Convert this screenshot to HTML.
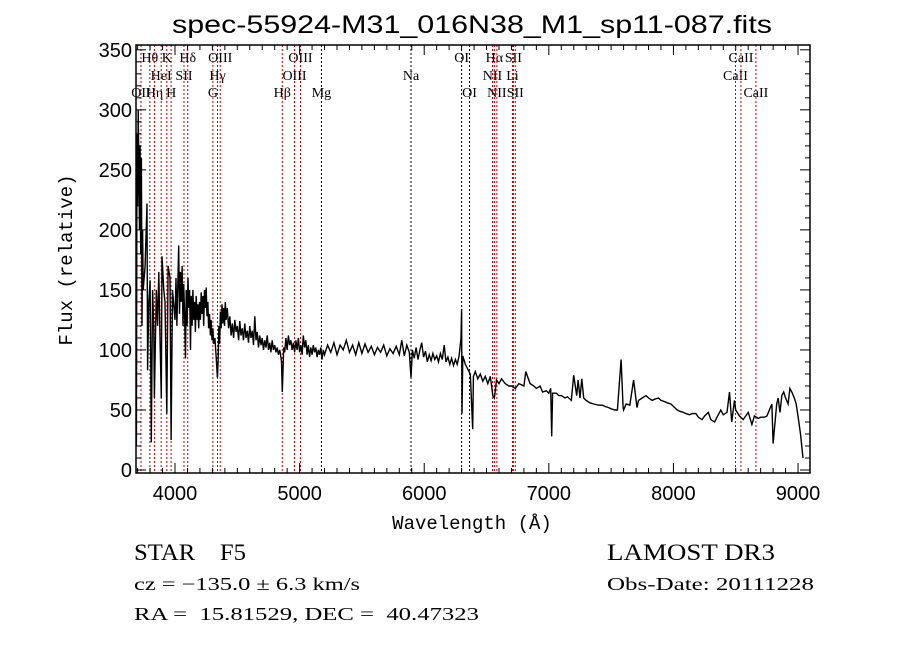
<!DOCTYPE html>
<html><head><meta charset="utf-8">
<style>
html,body{margin:0;padding:0;background:#fff;}
svg{display:block;font-family:"Liberation Sans",sans-serif;}
</style></head>
<body>
<svg id="chart" width="900" height="649" viewBox="0 0 900 649" xmlns="http://www.w3.org/2000/svg">
<rect width="900" height="649" fill="#fff"/>
<text x="172" y="33" font-size="25" textLength="600" lengthAdjust="spacingAndGlyphs">spec-55924-M31_016N38_M1_sp11-087.fits</text>
<g id="lines"></g>
<g id="spec"></g>
<g id="axes"></g>
<text x="472" y="529" font-size="19" text-anchor="middle" font-family="Liberation Mono, monospace">Wavelength (Å)</text>
<text transform="translate(72,260) rotate(-90)" font-size="19" text-anchor="middle" font-family="Liberation Mono, monospace">Flux (relative)</text>
<g font-family="Liberation Serif, serif" style="white-space:pre">
<text x="134" y="560" font-size="23" textLength="112" lengthAdjust="spacingAndGlyphs" xml:space="preserve">STAR    F5</text>
<text x="134" y="590" font-size="18" textLength="226" lengthAdjust="spacingAndGlyphs">cz = −135.0 ± 6.3 km/s</text>
<text x="134" y="620" font-size="18" textLength="345" lengthAdjust="spacingAndGlyphs" xml:space="preserve">RA =  15.81529, DEC =  40.47323</text>
<text x="607" y="560" font-size="23" textLength="168" lengthAdjust="spacingAndGlyphs">LAMOST DR3</text>
<text x="607" y="590" font-size="18" textLength="207" lengthAdjust="spacingAndGlyphs">Obs-Date: 20111228</text>
</g>
</svg>
<script>
const wavelengths=[3690,3695,3700,3705,3710,3715,3720,3725,3730,3735,3740,3745,3760,3775,3780,3790,3800,3810,3820,3830,3835,3850,3860,3870,3880,3890,3896,3910,3920,3934,3945,3960,3969,3980,
4000,4008,4015,4022,4030,4036,4043,4050,4057,4064,4070,4077,4084,4090,4097,4104,4110,4117,4124,4130,4137,4144,4150,4157,4164,4170,4177,4184,4190,4197,4204,4210,4217,4224,4230,4237,4244,4250,4257,4264,4270,4277,4284,4290,4297,4304,4310,4320,4330,4340,4346,4352,4358,4364,4370,4377,4384,4390,4397,4404,4410,4420,4430,4440,4450,4460,4470,4480,4490,4500,4510,4520,4530,4540,4550,4560,4570,4580,4590,4600,4610,4620,4630,4640,4650,4660,4670,4680,4690,4700,4710,4720,4730,4740,4750,4760,4770,4780,4790,4800,4810,4820,4830,4840,4850,4855,4861,4866,4872,4880,4890,4900,4910,4920,4930,4940,4950,4960,4970,4980,4990,5000,5010,5020,5030,5040,5050,5060,5070,5080,5090,5100,5110,5120,5130,5140,5150,5160,5170,5180,5190,5200,
5225,5250,5275,5300,5325,5350,5375,5400,5425,5450,5475,5500,5525,5550,5575,5600,5625,5650,5675,5700,5725,5750,5775,5800,5820,5840,5860,5880,5894,5905,5920,5935,5950,5965,5980,5995,6010,6025,6040,6055,6070,6085,6100,6115,6130,6145,6160,6175,6190,6205,6220,6235,6250,6265,6280,6295,6300,6303,6310,6330,6350,6370,6389,6395,6410,6430,6450,6470,6490,6510,6530,6550,6563,6580,6600,6620,6650,6680,6700,6730,6760,6800,6815,6850,6880,6900,6930,6950,6980,7000,7015,7023,7030,7060,7080,7100,7130,7150,7180,7200,7224,7235,7250,7265,7280,7300,7330,7360,7400,7430,7450,7480,7500,7530,7550,7580,7596,7600,7620,7650,7680,7708,7720,7750,7780,7800,7830,7850,7880,7900,7930,7950,7980,8000,8030,8050,8080,8100,8130,8150,8180,8200,8230,8250,8280,8300,8330,8350,8380,8400,8430,8450,8468,8490,8500,8530,8560,8600,8630,8650,8680,8700,8730,8750,8770,8790,8800,8829,8840,8855,8870,8885,8900,8920,8935,8950,8970,8985,9000,9020,9040,9050];
const fluxes=[20,280,220,300,250,200,270,180,260,120,200,150,170,222,83,140,158,23,150,117,60,150,120,165,110,60,178,150,140,47,170,160,25,150,
125,160,120,150,187,130,165,140,170,120,155,130,93,150,120,160,135,150,100,145,120,150,125,140,115,145,125,138,118,140,125,148,130,145,120,150,135,152,128,140,118,130,112,125,108,118,105,110,95,77,90,120,105,132,118,138,122,135,120,140,125,135,118,128,112,122,110,125,115,120,108,124,112,118,108,122,110,116,106,120,110,116,104,128,108,115,102,112,104,110,100,108,102,112,100,106,98,108,100,104,98,102,96,100,94,90,65,80,102,98,110,100,112,104,108,100,106,98,108,100,110,98,104,96,112,102,108,96,104,94,102,96,104,98,102,94,100,96,102,92,100,96,
104,98,106,96,104,100,108,98,104,96,106,97,105,98,103,96,102,98,104,95,101,97,103,96,108,95,104,98,77,100,93,102,92,100,106,94,99,90,96,91,97,92,95,90,97,92,104,90,94,88,93,87,92,88,95,110,134,47,95,88,84,80,34,78,82,76,80,74,78,72,78,62,60,75,72,76,72,70,70,68,72,70,82,72,70,68,70,65,66,64,68,28,64,64,62,62,60,61,58,79,62,75,60,76,60,58,56,55,54,54,53,52,51,50,50,92,52,50,55,54,75,52,58,60,62,60,58,59,60,58,57,56,55,53,50,49,48,47,46,47,47,44,42,45,48,42,40,44,50,46,48,65,40,58,50,45,42,48,38,45,43,44,44,45,50,55,22,55,60,48,62,65,60,55,68,65,60,55,45,30,10];
const lineWaves=[3727,3798,3835,3889,3934,3969,4072,4102,4304,4341,4363,4861,4959,5007,5175,5894,6300,6364,6548,6563,6583,6708,6716,6731,8498,8542,8662];
const lineNames=["OII","Hθ","Hη","HeI","K","H","SII","Hδ","G","Hγ","OIII","Hβ","OIII","OIII","Mg","Na","OI","OI","NII","Hα","NII","Li","SII","SII","CaII","CaII","CaII"];
const lineRows=[2,0,2,1,0,2,1,0,2,1,0,2,1,0,2,1,0,2,1,0,2,1,0,2,1,0,2];
const xTicks=[4000,5000,6000,7000,8000,9000];
const yTicks=[0,50,100,150,200,250,300,350];

const L=136,R=810,T=45,B=473;
const X0=3687,X1=9096,Y0=-2.5,Y1=354;
const sx=w=>L+(w-X0)/(X1-X0)*(R-L);
const sy=f=>B-(f-Y0)/(Y1-Y0)*(B-T);
const NS="http://www.w3.org/2000/svg";
function mk(tag,attrs,parent){const e=document.createElementNS(NS,tag);for(const k in attrs)e.setAttribute(k,attrs[k]);parent.appendChild(e);return e;}

const gl=document.getElementById('lines');
const rowY=[62,80,97];
const blackLines=["Na","OI","Mg"];
lineWaves.forEach((w,i)=>{
  const col=blackLines.includes(lineNames[i])?'#000':'#c00000';
  const ln=mk('line',{x1:sx(w),x2:sx(w),y1:T,y2:B,stroke:col,'stroke-width':1,'stroke-dasharray':'2,2'},gl);
  
  
  const t=mk('text',{x:sx(w),y:rowY[lineRows[i]],'font-size':14,'text-anchor':'middle','font-family':'Liberation Serif, serif'},gl);
  t.textContent=lineNames[i];
  
  
});

const gs=document.getElementById('spec');
const pts=wavelengths.map((w,i)=>sx(w).toFixed(1)+','+sy(fluxes[i]).toFixed(1)).join(' ');
const pl=mk('polyline',{points:pts,fill:'none',stroke:'#000','stroke-width':1.4},gs);



const ga=document.getElementById('axes');
const fr=mk('rect',{x:L,y:T,width:R-L,height:B-T,fill:'none',stroke:'#000','stroke-width':1.5},ga);


for(let w=3700;w<=9000;w+=100){
  const len=(w%1000===0)?10:5;
  mk('line',{x1:sx(w),x2:sx(w),y1:B,y2:B-len,stroke:'#000'},ga);
  mk('line',{x1:sx(w),x2:sx(w),y1:T,y2:T+len,stroke:'#000'},ga);
}
for(let f=0;f<=350;f+=10){
  const len=(f%50===0)?10:5;
  mk('line',{x1:L,x2:L+len,y1:sy(f),y2:sy(f),stroke:'#000'},ga);
  mk('line',{x1:R,x2:R-len,y1:sy(f),y2:sy(f),stroke:'#000'},ga);
}
xTicks.forEach(w=>{
  const t=mk('text',{x:sx(w),y:B+27,'font-size':20,'text-anchor':'middle'},ga);
  t.textContent=w;
  
  
});
yTicks.forEach(f=>{
  const t=mk('text',{x:L-4,y:sy(f)+7,'font-size':20,'text-anchor':'end'},ga);
  t.textContent=f;
  
  
});
</script>
</body></html>
